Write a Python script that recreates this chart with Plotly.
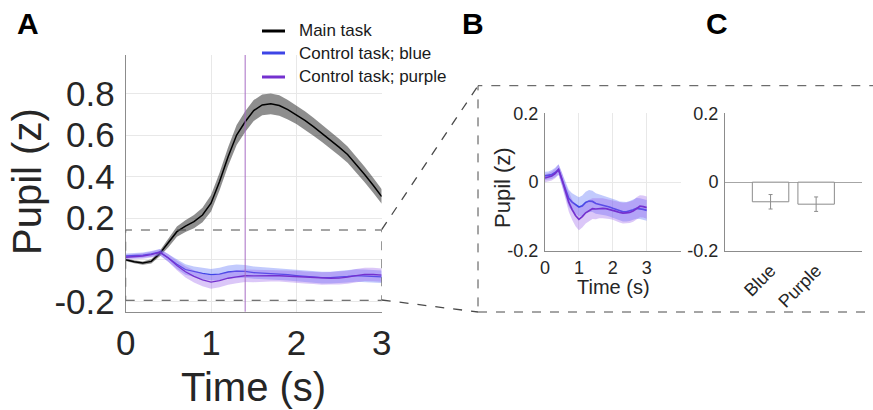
import plotly.graph_objects as go

W, H = 873, 410

# ---------------- data ----------------
time_s = [round(0.1 * i, 1) for i in range(31)]

main_task = [0.000, -0.010, -0.016, -0.008, 0.030, 0.080, 0.135, 0.162, 0.183, 0.215,
             0.272, 0.376, 0.496, 0.600, 0.664, 0.718, 0.745, 0.750, 0.742, 0.722,
             0.698, 0.670, 0.640, 0.608, 0.576, 0.542, 0.506, 0.460, 0.410, 0.358, 0.304]
main_err = [0.006, 0.007, 0.008, 0.010, 0.013, 0.020, 0.025, 0.028, 0.032, 0.035,
            0.040, 0.042, 0.045, 0.048, 0.050, 0.050, 0.050, 0.050, 0.049, 0.047,
            0.045, 0.044, 0.043, 0.042, 0.041, 0.040, 0.039, 0.038, 0.037, 0.036, 0.035]

blue = [0.018, 0.019, 0.022, 0.028, 0.037, 0.008, -0.022, -0.047, -0.058, -0.066,
        -0.072, -0.069, -0.059, -0.055, -0.056, -0.062, -0.064, -0.066, -0.069, -0.072,
        -0.076, -0.080, -0.084, -0.086, -0.086, -0.084, -0.080, -0.076, -0.077, -0.079, -0.082]
blue_err = [0.012, 0.012, 0.013, 0.014, 0.015, 0.018, 0.022, 0.025, 0.026, 0.027,
            0.028, 0.030, 0.031, 0.032, 0.031, 0.030, 0.029, 0.028, 0.028, 0.028,
            0.028, 0.028, 0.028, 0.028, 0.028, 0.029, 0.029, 0.030, 0.030, 0.030, 0.030]

purple = [0.012, 0.014, 0.018, 0.025, 0.036, 0.008, -0.028, -0.058, -0.080, -0.097,
          -0.108, -0.100, -0.089, -0.082, -0.077, -0.078, -0.076, -0.076, -0.077, -0.079,
          -0.081, -0.085, -0.088, -0.090, -0.089, -0.088, -0.084, -0.076, -0.070, -0.071, -0.074]
purple_err = [0.012, 0.012, 0.013, 0.014, 0.015, 0.019, 0.023, 0.027, 0.029, 0.031,
              0.032, 0.032, 0.031, 0.031, 0.030, 0.030, 0.029, 0.029, 0.028, 0.028,
              0.028, 0.029, 0.029, 0.030, 0.030, 0.031, 0.031, 0.032, 0.032, 0.032, 0.032]

bar_labels = ["Blue", "Purple"]
bar_pos = [1, 2]
bar_values = [-0.057, -0.064]
bar_errors = [0.021, 0.021]

a_yticks = [-0.2, 0, 0.2, 0.4, 0.6, 0.8]
a_yticktext = ["-0.2", "0", "0.2", "0.4", "0.6", "0.8"]
a_xticks = [0, 1, 2, 3]
b_xticks = [0, 1, 2, 3, 4]
b_xticktext = ["0", "1", "2", "3", ""]
bc_yticks = [-0.2, 0, 0.2]
bc_yticktext = ["-0.2", "0", "0.2"]
event_time = 1.4
zoom_box = (-0.195, 0.143)

# ---------------- styles ----------------
FONT = "Liberation Sans, Arial, Helvetica, sans-serif"
TXT = "#262626"
AX = "#8c8c8c"
GRID = "#e8e8e8"
C_MAIN = "#000000"
C_BLUE = "#3d45e6"
C_PURPLE = "#7431cf"
F_MAIN = "rgba(30,30,30,0.5)"
F_BLUE = "rgba(95,115,250,0.38)"
F_PURPLE = "rgba(150,90,235,0.34)"


def px(x):
    return x / W


def py(y):
    return 1 - y / H


fig = go.Figure()


def band(x, y, e, fill, line, xa, ya, lw=1.5):
    up = [a + b for a, b in zip(y, e)]
    lo = [a - b for a, b in zip(y, e)]
    fig.add_trace(go.Scatter(x=x, y=up, xaxis=xa, yaxis=ya, mode="lines",
                             line=dict(width=0, color=fill), showlegend=False,
                             hoverinfo="skip"))
    fig.add_trace(go.Scatter(x=x, y=lo, xaxis=xa, yaxis=ya, mode="lines",
                             line=dict(width=0, color=fill), fill="tonexty",
                             fillcolor=fill, showlegend=False, hoverinfo="skip"))
    fig.add_trace(go.Scatter(x=x, y=y, xaxis=xa, yaxis=ya, mode="lines",
                             line=dict(width=lw, color=line), showlegend=False))


# Panel A
band(time_s, main_task, main_err, F_MAIN, C_MAIN, "x", "y")
band(time_s, blue, blue_err, F_BLUE, C_BLUE, "x", "y", 1.3)
band(time_s, purple, purple_err, F_PURPLE, C_PURPLE, "x", "y", 1.3)
# Panel B
band(time_s, blue, blue_err, F_BLUE, C_BLUE, "x2", "y2", 1.7)
band(time_s, purple, purple_err, F_PURPLE, C_PURPLE, "x2", "y2", 1.7)
# Panel C
fig.add_trace(go.Bar(x=bar_pos, y=bar_values, xaxis="x3", yaxis="y3", width=0.8,
                     marker=dict(color="white", line=dict(color=AX, width=1)),
                     error_y=dict(type="data", array=bar_errors, color=AX,
                                  thickness=1, width=2),
                     showlegend=False))

common = dict(showline=True, linecolor=AX, linewidth=1, mirror=False,
              ticks="", zeroline=False, gridcolor=GRID, gridwidth=1,
              tickfont=dict(family=FONT, color=TXT))

fig.update_layout(
    width=W, height=H, autosize=False,
    margin=dict(l=0, r=0, t=0, b=0, pad=0, autoexpand=False),
    paper_bgcolor="white", plot_bgcolor="white",
    font=dict(family=FONT, color=TXT),
    showlegend=False,
    xaxis=dict(domain=[px(125.7), px(381.7)], range=[0, 3], tickvals=a_xticks,
               anchor="y", ticklabelstandoff=0, showgrid=True,
               **{**common, "tickfont": dict(family=FONT, color=TXT, size=35)}),
    yaxis=dict(domain=[py(311.7), py(55)], range=[-0.25, 0.985], tickvals=a_yticks,
               ticktext=a_yticktext, anchor="x", ticklabelstandoff=3, showgrid=True,
               **{**common, "tickfont": dict(family=FONT, color=TXT, size=35)}),
    xaxis2=dict(domain=[px(545), px(680.6)], range=[0, 4], tickvals=b_xticks,
                ticktext=b_xticktext, anchor="y2", ticklabelstandoff=0, showgrid=True,
                **{**common, "tickfont": dict(family=FONT, color=TXT, size=18)}),
    yaxis2=dict(domain=[py(251), py(113.3)], range=[-0.2, 0.2], tickvals=bc_yticks,
                ticktext=bc_yticktext, anchor="x2", ticklabelstandoff=2, showgrid=True,
                **{**common, "tickfont": dict(family=FONT, color=TXT, size=18)}),
    xaxis3=dict(domain=[px(725), px(861.7)], range=[0, 3], tickvals=bar_pos,
                ticktext=bar_labels, tickangle=-45, anchor="y3", showgrid=False,
                ticklabelstandoff=1,
                **{**common, "tickfont": dict(family=FONT, color=TXT, size=18)}),
    yaxis3=dict(domain=[py(251), py(113.3)], range=[-0.2, 0.2], tickvals=bc_yticks,
                ticktext=bc_yticktext, anchor="x3", showgrid=False, ticklabelstandoff=2,
                **{**{k: v for k, v in common.items() if k != "zeroline"},
                   "tickfont": dict(family=FONT, color=TXT, size=18)},
                zeroline=True, zerolinecolor="#a6a6a6", zerolinewidth=1),
)

shapes = []
# event line
shapes.append(dict(type="line", xref="x", yref="y domain", x0=event_time, x1=event_time,
                   y0=0, y1=1, line=dict(color="#a86cc4", width=1)))
# zoom rectangle in A
shapes.append(dict(type="rect", xref="x", yref="y", x0=0, x1=3,
                   y0=zoom_box[0], y1=zoom_box[1],
                   line=dict(color="#4a4a4a", width=1, dash="dash")))
# connectors
shapes.append(dict(type="line", xref="paper", yref="paper", x0=px(381.7), y0=py(229.7),
                   x1=px(478), y1=py(85.7), line=dict(color="#4a4a4a", width=1.3, dash="dash")))
shapes.append(dict(type="line", xref="paper", yref="paper", x0=px(381.7), y0=py(300),
                   x1=px(478), y1=py(312), line=dict(color="#4a4a4a", width=1.3, dash="dash")))
# big inset box
shapes.append(dict(type="rect", xref="paper", yref="paper", x0=px(478), x1=px(880),
                   y0=py(312), y1=py(85.7), line=dict(color="#4a4a4a", width=1, dash="dash")))

# manual legend
leg_items = [("Main task", C_MAIN, 31), ("Control task; blue", C_BLUE, 53),
             ("Control task; purple", C_PURPLE, 77)]
ann = []
for name, col, yy in leg_items:
    shapes.append(dict(type="line", xref="paper", yref="paper", x0=px(262), x1=px(285),
                       y0=py(yy), y1=py(yy), line=dict(color=col, width=3)))
    ann.append(dict(x=px(297), y=py(yy), xref="paper", yref="paper", text=name,
                    showarrow=False, xanchor="left", yanchor="middle",
                    font=dict(family=FONT, size=17, color="#1a1a1a")))


def title(text, x, y, size, angle=0, bold=False, color=TXT):
    ann.append(dict(x=px(x), y=py(y), xref="paper", yref="paper",
                    text=("<b>%s</b>" % text) if bold else text,
                    textangle=angle, showarrow=False, xanchor="center", yanchor="middle",
                    font=dict(family=FONT, size=size, color=color)))


# axis titles
title("Pupil (z)", 27, 182, 40, -90)
title("Time (s)", 253, 387, 40)
title("Pupil (z)", 503, 187, 22, -90)
title("Time (s)", 613, 287, 20)

# panel labels
for lab, xx in [("A", 28), ("B", 473), ("C", 717)]:
    title(lab, xx, 23, 30, bold=True, color="black")

fig.update_layout(shapes=shapes, annotations=ann)

fig.write_html("out.html", config={"displayModeBar": False},
               post_script="document.body.style.margin='0px';")
